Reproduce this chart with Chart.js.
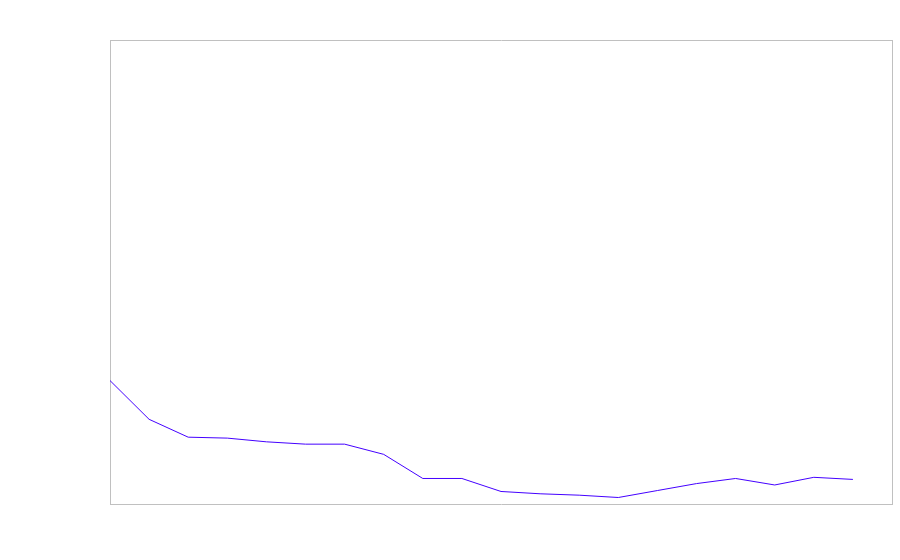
<!DOCTYPE html>
<html>
<head>
<meta charset="utf-8">
<script src="https://cdn.jsdelivr.net/npm/chart.js@4"></script>
<style>
    html, body { margin: 0; padding: 0; background: #ffffff; }
    #wrap { width: 900px; height: 560px; }
</style>
</head>
<body>
<div id="wrap"><canvas id="chart"></canvas></div>
<script>
// 21 slots on the x axis, the last one has no value
const labels = ['1', '2', '3', '4', '5', '6', '7', '8', '9', '10', '11',
    '12', '13', '14', '15', '16', '17', '18', '19', '20', '21'];
const values = [26.6, 18.25, 14.4, 14.2, 13.4, 12.9, 12.9, 10.7, 5.5, 5.5, 2.7,
    2.2, 1.9, 1.4, 2.9, 4.4, 5.5, 4.1, 5.75, 5.3, null];
const yMin = 0;
const yMax = 100;

const hidden = {
    ticks: { display: false },
    grid: { display: false, drawTicks: false },
    border: { display: true, color: '#c0c0c0', width: 1 }
};

new Chart(document.getElementById('chart'), {
    type: 'line',
    data: {
        labels: labels,
        datasets: [{
            data: values,
            borderColor: '#4400ff',
            borderWidth: 1,
            pointRadius: 0,
            tension: 0,
            fill: false
        }]
    },
    options: {
        responsive: true,
        maintainAspectRatio: false,
        animation: false,
        layout: { padding: { left: 110, right: 8, top: 40, bottom: 56 } },
        plugins: { legend: { display: false }, tooltip: { enabled: false } },
        scales: {
            x: Object.assign({ position: 'bottom' }, hidden),
            x2: Object.assign({ position: 'top', labels: labels }, hidden),
            y: Object.assign({ position: 'left', min: yMin, max: yMax }, hidden),
            y2: Object.assign({ position: 'right', min: yMin, max: yMax }, hidden)
        }
    }
});
</script>
</body>
</html>
